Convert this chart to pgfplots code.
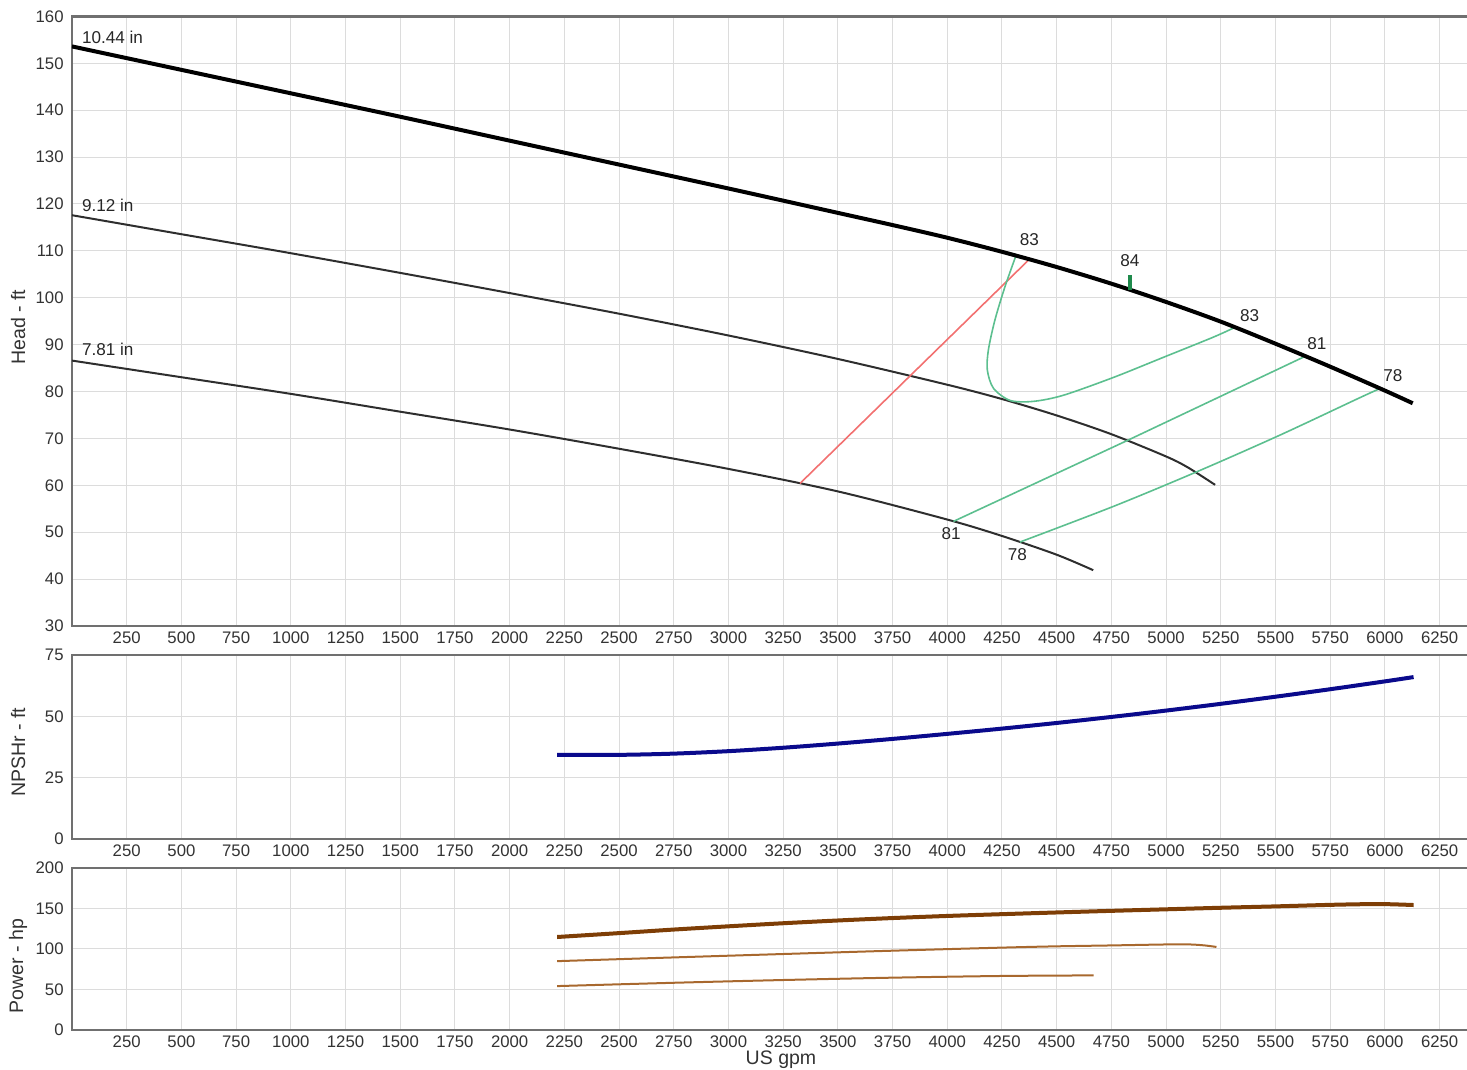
\documentclass[border=0pt]{standalone}
\usepackage{pgfplots}
\pgfplotsset{compat=1.18}
\usepackage{fontspec}
\setmainfont{Liberation Sans}
\definecolor{gridgray}{HTML}{DCDCDC}
\definecolor{axisgray}{HTML}{707070}
\definecolor{ticktext}{HTML}{333333}
\definecolor{effgreen}{HTML}{5CBF8F}
\definecolor{markgreen}{HTML}{1F8A4C}
\definecolor{minred}{HTML}{F27070}
\definecolor{npshblue}{HTML}{0A0A8C}
\definecolor{pwrdark}{HTML}{7E3E06}
\definecolor{pwrlight}{HTML}{A8682E}
\definecolor{curvegray}{HTML}{2E2E2E}
\pgfplotsset{
  pumpaxis/.style={
    scale only axis, width=702.4bp, xmin=0, xmax=6420,
    xtick={250,500,...,6250},
    grid=major, major grid style={draw=gridgray, line width=0.5bp},
    major tick length=0pt,
    axis line style={draw=axisgray, line width=1.2bp},
    tick label style={font=\fontsize{8.4}{9}\selectfont, text=ticktext},
    /pgf/number format/assume math mode=true,
    /pgf/number format/1000 sep={},
    scaled ticks=false,
    xticklabel style={anchor=north, inner sep=0pt, yshift=-2.6bp},
    yticklabel style={anchor=east, inner sep=0pt, xshift=-4bp},
    label style={font=\fontsize{9.8}{11}\selectfont, text=ticktext},
  },
}
\tikzset{efflabel/.style={font=\fontsize{8.6}{9}\selectfont, text=black!85, inner sep=0pt}}
\begin{document}
\begin{tikzpicture}
\useasboundingbox (0,0) rectangle (733.5bp,535bp);
% ---------------- Head ----------------
\begin{axis}[pumpaxis, at={(36bp,222bp)}, anchor=south west, height=304.8bp,
  ymin=30, ymax=160, ytick={30,40,...,160},
  ylabel={Head - ft},
  ylabel style={at={(axis description cs:-0.0384,0.49)}, anchor=center}]
% 9.12 in
\addplot[curvegray, line width=1bp, smooth] coordinates {
 (0,117.6) (500,113.55) (1000,109.5) (1500,105.3) (2000,101.0) (2500,96.6)
 (3000,91.95) (3500,86.95) (4000,81.45) (4250,78.4) (4500,74.9) (4750,70.9)
 (5000,66.15) (5100,63.8) (5224,60.1)};
% 7.81 in
\addplot[curvegray, line width=1bp, smooth] coordinates {
 (0,86.6) (500,83.05) (1000,79.5) (1500,75.7) (2000,71.9) (2500,67.8)
 (3000,63.5) (3500,58.7) (4000,52.7) (4250,49.2) (4500,45.2) (4667,41.9)};
% minimum flow line
\addplot[minred, line width=0.8bp] coordinates {(3327,60.4) (4375,108.2)};
% efficiency contours
\addplot[effgreen, line width=0.8bp, smooth] coordinates {
 (4314,109.0) (4264,102.4) (4218,95.3) (4188,88.9) (4183,84.6) (4211,80.7)
 (4287,78.1) (4393,77.9) (4530,79.2) (4759,83.0) (4988,87.3) (5216,91.6) (5315,93.7)};
\addplot[effgreen, line width=0.8bp] coordinates {(4028,52.3) (4820,69.5) (5635,87.5)};
\addplot[effgreen, line width=0.8bp, smooth] coordinates {
 (4332,47.9) (4759,55.5) (5141,62.9) (5520,70.7) (5886,78.7) (5978,80.65)};
% 10.44 in
\addplot[black, line width=2bp, smooth] coordinates {
 (0,153.6) (500,148.6) (1000,143.6) (1500,138.6) (2000,133.5) (2500,128.4)
 (3000,123.3) (3500,118.1) (3750,115.5) (4000,112.8) (4250,109.8) (4500,106.55)
 (4750,103.0) (5000,99.1) (5250,94.9) (5500,90.2) (5750,85.3) (6000,80.2) (6127,77.5)};
\addplot[markgreen, line width=1.6bp] coordinates {(4835,101.7) (4835,104.9)};
\node[efflabel, anchor=west] at (axis cs:44,155.5) {10.44 in};
\node[efflabel, anchor=west] at (axis cs:44,119.6) {9.12 in};
\node[efflabel, anchor=west] at (axis cs:44,88.9) {7.81 in};
\node[efflabel] at (axis cs:4375,112.3) {83};
\node[efflabel] at (axis cs:4835,107.9) {84};
\node[efflabel] at (axis cs:5382,96.1) {83};
\node[efflabel] at (axis cs:5689,90.3) {81};
\node[efflabel] at (axis cs:6036,83.5) {78};
\node[efflabel] at (axis cs:4018,49.8) {81};
\node[efflabel] at (axis cs:4320,45.2) {78};
\end{axis}
% ---------------- NPSHr ----------------
\begin{axis}[pumpaxis, at={(36bp,115.5bp)}, anchor=south west, height=92bp,
  ymin=0, ymax=75, ytick={0,25,50,75},
  ylabel={NPSHr - ft},
  ylabel style={at={(axis description cs:-0.0384,0.47)}, anchor=center}]
\addplot[npshblue, line width=2bp, smooth] coordinates {
 (2217,34.3) (2500,34.3) (2750,34.8) (3000,35.8) (3250,37.2) (3500,38.9)
 (3750,40.8) (4000,42.85) (4250,45.0) (4500,47.3) (4750,49.75) (5000,52.35)
 (5250,55.1) (5500,58.0) (5750,61.05) (6000,64.25) (6131,66.0)};
\end{axis}
% ---------------- Power ----------------
\begin{axis}[pumpaxis, at={(36bp,20bp)}, anchor=south west, height=81bp,
  ymin=0, ymax=200, ytick={0,50,...,200},
  ylabel={Power - hp},
  ylabel style={at={(axis description cs:-0.0384,0.395)}, anchor=center},
  xlabel={US gpm},
  xlabel style={at={(axis description cs:0.5047,-0.185)}, anchor=center}]
\addplot[pwrlight, line width=1bp, smooth] coordinates {
 (2217,54.2) (2750,58.3) (3250,61.7) (3750,64.6) (4250,66.7) (4669,67.4)};
\addplot[pwrlight, line width=1bp, smooth] coordinates {
 (2217,85.0) (2750,89.6) (3250,93.8) (3750,97.9) (4250,101.7) (4500,103.3)
 (4750,104.4) (5000,105.6) (5110,105.6) (5180,104.3) (5230,102.5)};
\addplot[pwrdark, line width=2bp, smooth] coordinates {
 (2217,114.8) (2500,119.6) (2750,124.0) (3000,128.0) (3250,131.8) (3500,135.2)
 (3750,138.2) (4000,140.8) (4250,143.0) (4500,145.1) (4750,147.1) (5000,149.0)
 (5250,150.9) (5500,152.6) (5750,154.5) (5900,155.3) (6000,155.4) (6131,154.3)};
\end{axis}
\end{tikzpicture}
\end{document}
